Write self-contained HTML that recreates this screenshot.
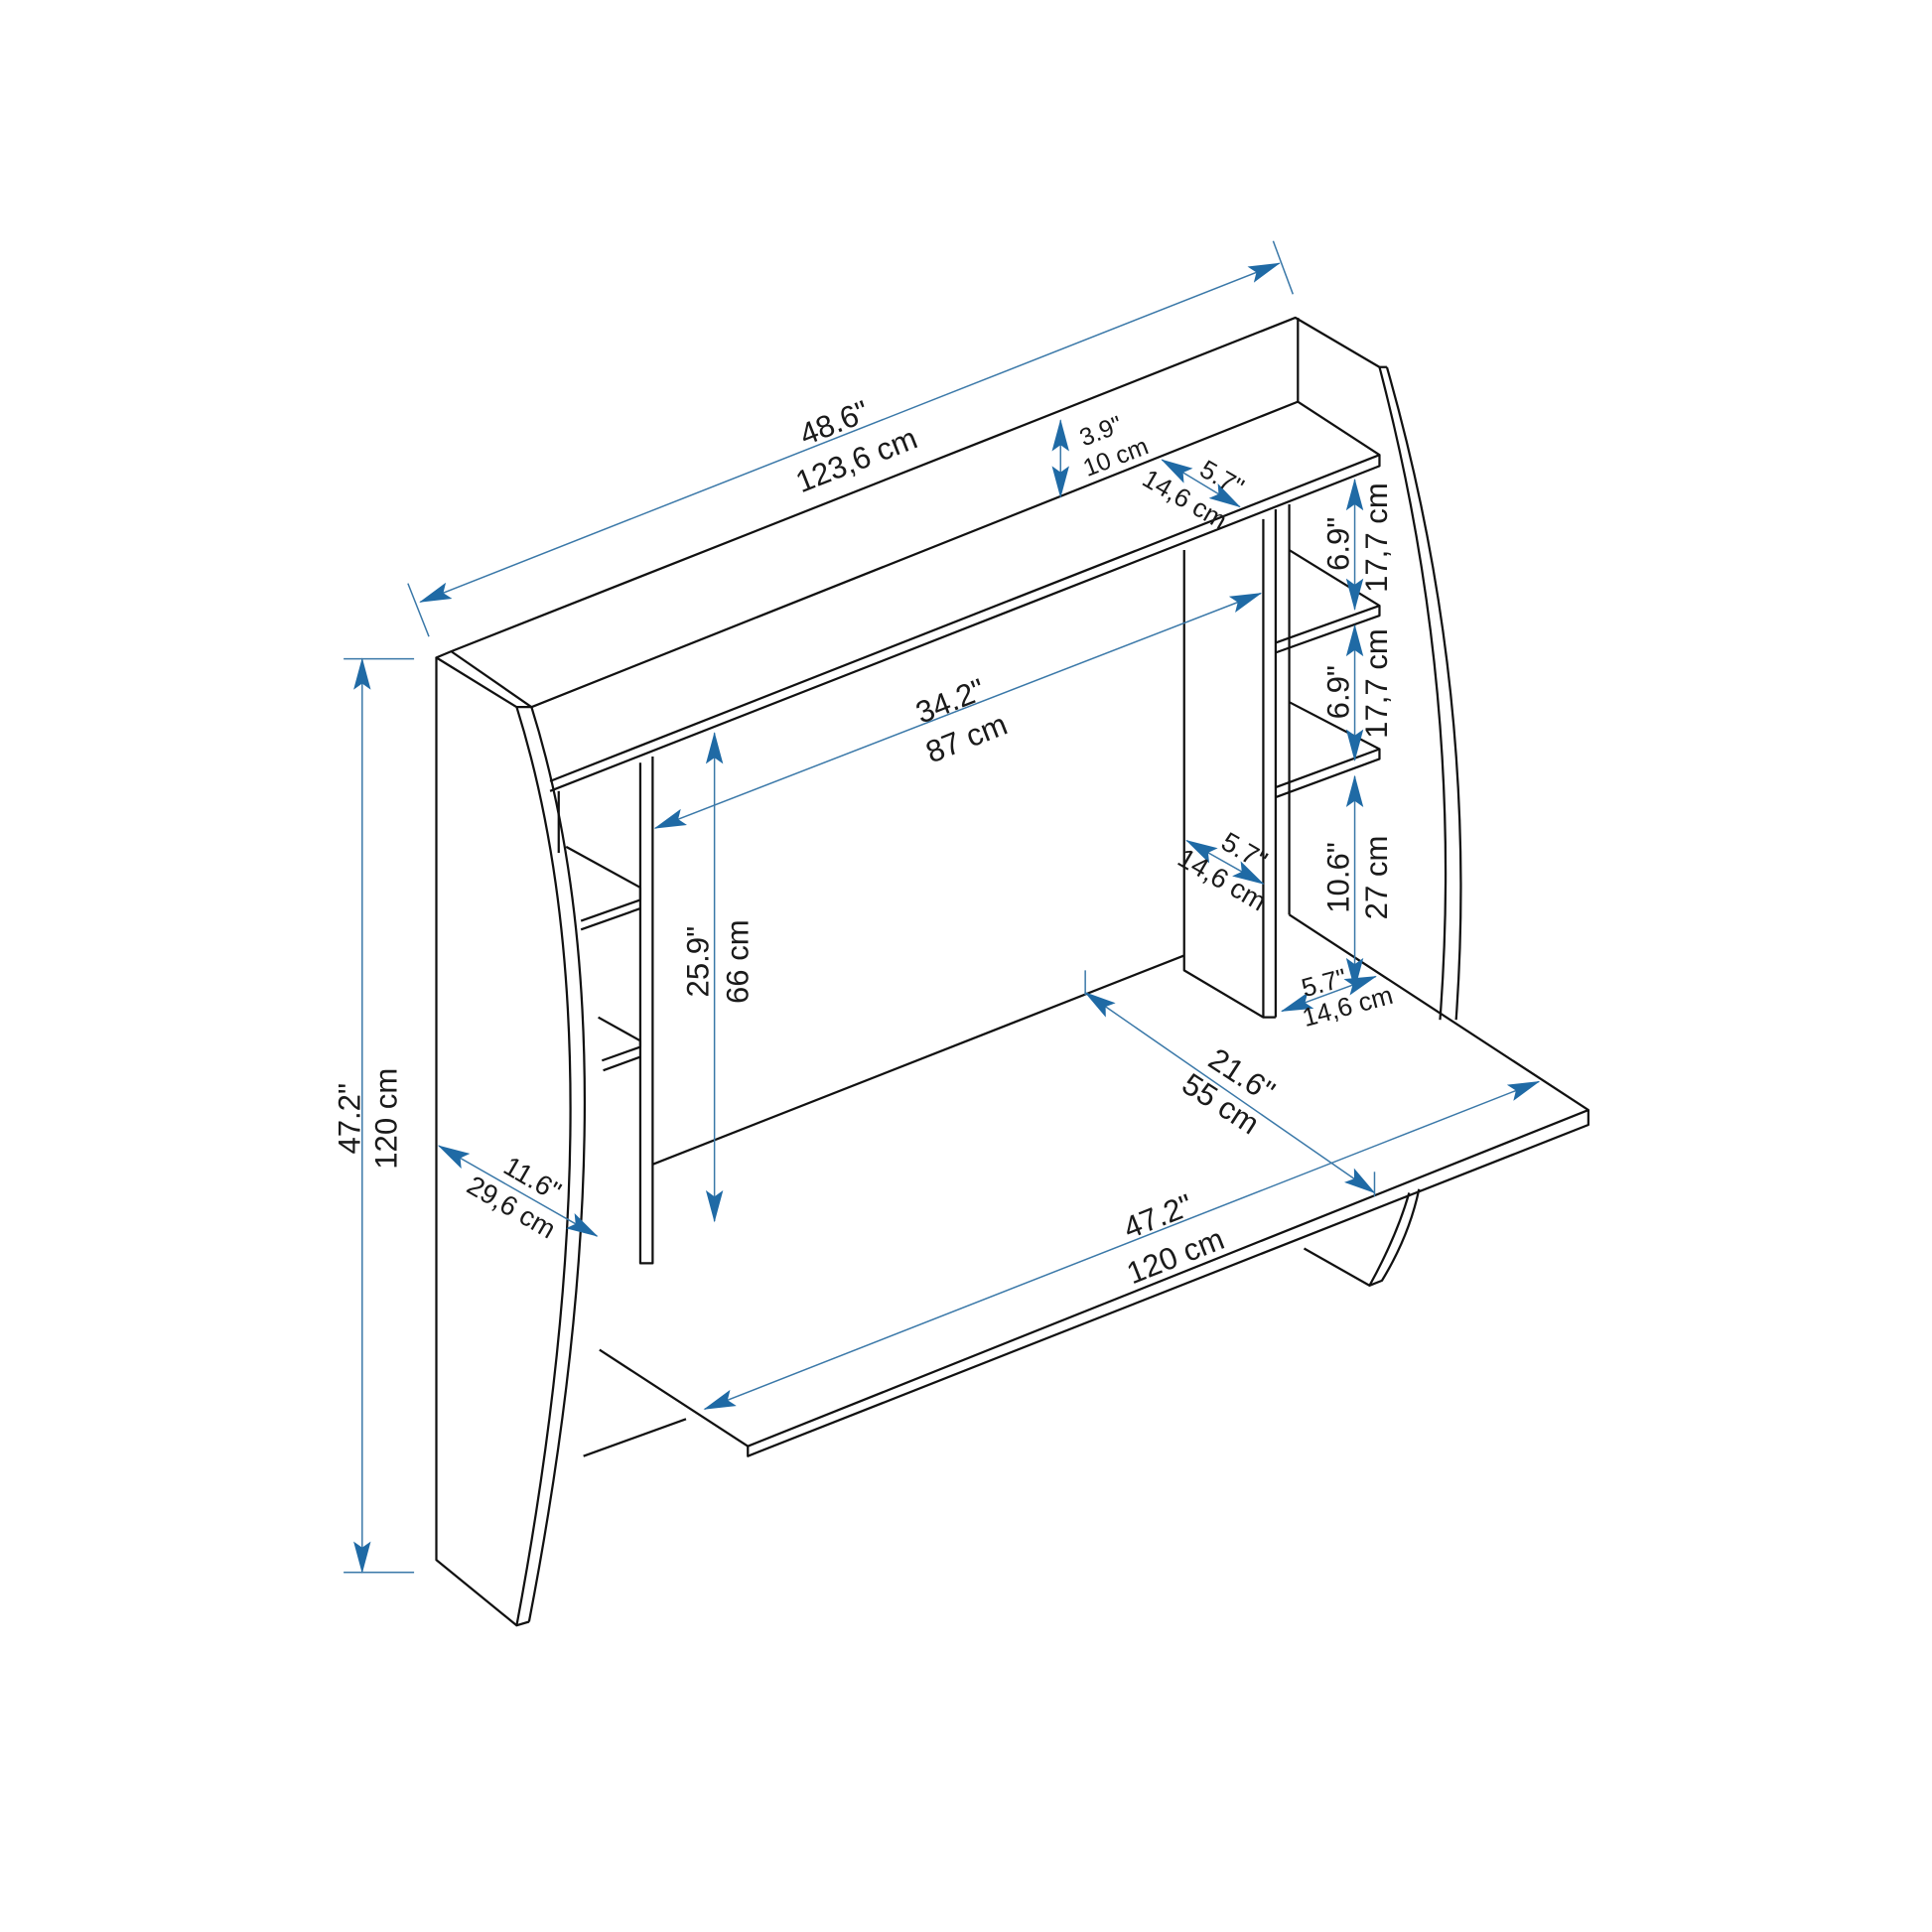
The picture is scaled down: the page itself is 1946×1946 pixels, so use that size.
<!DOCTYPE html>
<html><head><meta charset="utf-8"><style>
html,body{margin:0;padding:0;background:#fff;}
svg{display:block;}
text{font-family:"Liberation Sans",sans-serif;font-size:25px;fill:#1a1a1a;}
.k{fill:none;stroke:#111;stroke-width:1.8;stroke-linejoin:round;}
.d{stroke:#3a78a8;stroke-width:1.2;fill:none;}
.a{fill:#1f6aa5;}
</style></head><body>
<svg width="1946" height="1946" viewBox="0 0 1563 1563" xmlns="http://www.w3.org/2000/svg">
<defs>
<marker id="ar" viewBox="0 0 26 14" refX="25" refY="7" markerWidth="26" markerHeight="14" markerUnits="userSpaceOnUse" orient="auto-start-reverse">
<path d="M0,0 L26,7 L0,14 L5,7 Z" class="a"/></marker>
</defs>
<g class="k">
<path d="M353,532 L353,1262 L418,1315 L428,1312"/>
<path d="M353,532 L365,527 L430,572 L418,572 Z"/>
<path d="M418,572 Q505,850 418,1315"/>
<path d="M430,572 Q517,850 428,1312"/>
<path d="M365,527 L1048,257 L1116,297 L1122,297"/>
<path d="M430,572 L1050,325 L1116,368 L1116,377 L445,640"/>
<path d="M445,632 L1116,368"/>
<path d="M1050,257 L1050,325"/>
<path d="M1116,297 Q1185,560 1165,825"/>
<path d="M1122,297 Q1197,560 1178,825"/>
<path d="M518,617 L518,1022 L528,1022 L528,612"/>
<path d="M452,640 L452,690"/>
<path d="M458,685 L518,718 L518,728 L470,745"/>
<path d="M470,752 L518,735"/>
<path d="M484,823 L518,842 L518,847 L487,858"/>
<path d="M488,866 L518,855"/>
<path d="M528,942 L958,773"/>
<path d="M958,445 L958,785 L1022,823 L1032,823"/>
<path d="M1022,420 L1022,823"/>
<path d="M1032,412 L1032,823"/>
<path d="M1043,408 L1043,740"/>
<path d="M1043,445 L1116,490 L1116,498 L1032,528"/>
<path d="M1032,520 L1116,490"/>
<path d="M1043,568 L1116,606 L1116,614 L1032,645"/>
<path d="M1032,637 L1116,606"/>
<path d="M1043,740 L1285,898 L1285,910 L605,1178 L605,1170 L485,1092"/>
<path d="M605,1170 L1285,898"/>
<path d="M472,1178 L555,1148"/>
<path d="M1055,1010 L1108,1040 L1118,1036 Q1140,1000 1148,962"/>
<path d="M1108,1040 Q1130,1000 1140,965"/>
</g>
<g class="d">
<line x1="340" y1="487" x2="1035" y2="213" marker-start="url(#ar)" marker-end="url(#ar)"/>
<line x1="330" y1="472" x2="347" y2="515"/><line x1="1030" y1="195" x2="1046" y2="238"/>
<line x1="293" y1="533" x2="293" y2="1272" marker-start="url(#ar)" marker-end="url(#ar)"/>
<line x1="278" y1="533" x2="335" y2="533"/><line x1="278" y1="1272" x2="335" y2="1272"/>
<line x1="858" y1="340" x2="858" y2="402" marker-start="url(#ar)" marker-end="url(#ar)"/>
<line x1="940" y1="372" x2="1003" y2="410" marker-start="url(#ar)" marker-end="url(#ar)"/>
<line x1="1096" y1="388" x2="1096" y2="493" marker-start="url(#ar)" marker-end="url(#ar)"/>
<line x1="1096" y1="506" x2="1096" y2="615" marker-start="url(#ar)" marker-end="url(#ar)"/>
<line x1="1096" y1="628" x2="1096" y2="800" marker-start="url(#ar)" marker-end="url(#ar)"/>
<line x1="1037" y1="818" x2="1113" y2="790" marker-start="url(#ar)" marker-end="url(#ar)"/>
<line x1="530" y1="670" x2="1020" y2="480" marker-start="url(#ar)" marker-end="url(#ar)"/>
<line x1="578" y1="593" x2="578" y2="988" marker-start="url(#ar)" marker-end="url(#ar)"/>
<line x1="960" y1="680" x2="1022" y2="715" marker-start="url(#ar)" marker-end="url(#ar)"/>
<line x1="878" y1="803" x2="1112" y2="965" marker-start="url(#ar)" marker-end="url(#ar)"/>
<line x1="878" y1="785" x2="878" y2="805"/><line x1="1112" y1="948" x2="1112" y2="968"/>
<line x1="355" y1="927" x2="483" y2="1000" marker-start="url(#ar)" marker-end="url(#ar)"/>
<line x1="570" y1="1140" x2="1245" y2="875" marker-start="url(#ar)" marker-end="url(#ar)"/>
</g>
<g text-anchor="middle">
<text transform="translate(678,350) rotate(-21.6)">48.6"</text>
<text transform="translate(696,380) rotate(-21.6)">123,6 cm</text>
<text transform="translate(291,905) rotate(-90)">47.2"</text>
<text transform="translate(321,905) rotate(-90)">120 cm</text>
<text style="font-size:20px" transform="translate(893,355) rotate(-21)">3.9"</text>
<text style="font-size:20px" transform="translate(905,376) rotate(-21)">10 cm</text>
<text style="font-size:21px" transform="translate(985,393) rotate(30)">5.7"</text>
<text style="font-size:21px" transform="translate(955,410) rotate(30)">14,6 cm</text>
<text transform="translate(1091,440) rotate(-90)">6.9"</text>
<text transform="translate(1122,435) rotate(-90)">17,7 cm</text>
<text transform="translate(1091,560) rotate(-90)">6.9"</text>
<text transform="translate(1122,553) rotate(-90)">17,7 cm</text>
<text transform="translate(1091,710) rotate(-90)">10.6"</text>
<text transform="translate(1122,710) rotate(-90)">27 cm</text>
<text style="font-size:21px" transform="translate(1073,802) rotate(-15)">5.7"</text>
<text style="font-size:21px" transform="translate(1092,821) rotate(-15)">14,6 cm</text>
<text transform="translate(772,575) rotate(-21.6)">34.2"</text>
<text transform="translate(785,605) rotate(-21.6)">87 cm</text>
<text transform="translate(573,778) rotate(-90)">25.9"</text>
<text transform="translate(605,778) rotate(-90)">66 cm</text>
<text style="font-size:22px" transform="translate(1003,695) rotate(30)">5.7"</text>
<text style="font-size:22px" transform="translate(985,718) rotate(30)">14,6 cm</text>
<text transform="translate(1000,877) rotate(33)">21.6"</text>
<text transform="translate(983,900) rotate(33)">55 cm</text>
<text style="font-size:22px" transform="translate(427,960) rotate(30)">11.6"</text>
<text style="font-size:22px" transform="translate(410,983) rotate(30)">29,6 cm</text>
<text transform="translate(940,992) rotate(-21.6)">47.2"</text>
<text transform="translate(954,1024) rotate(-21.6)">120 cm</text>
</g>
</svg>
</body></html>
